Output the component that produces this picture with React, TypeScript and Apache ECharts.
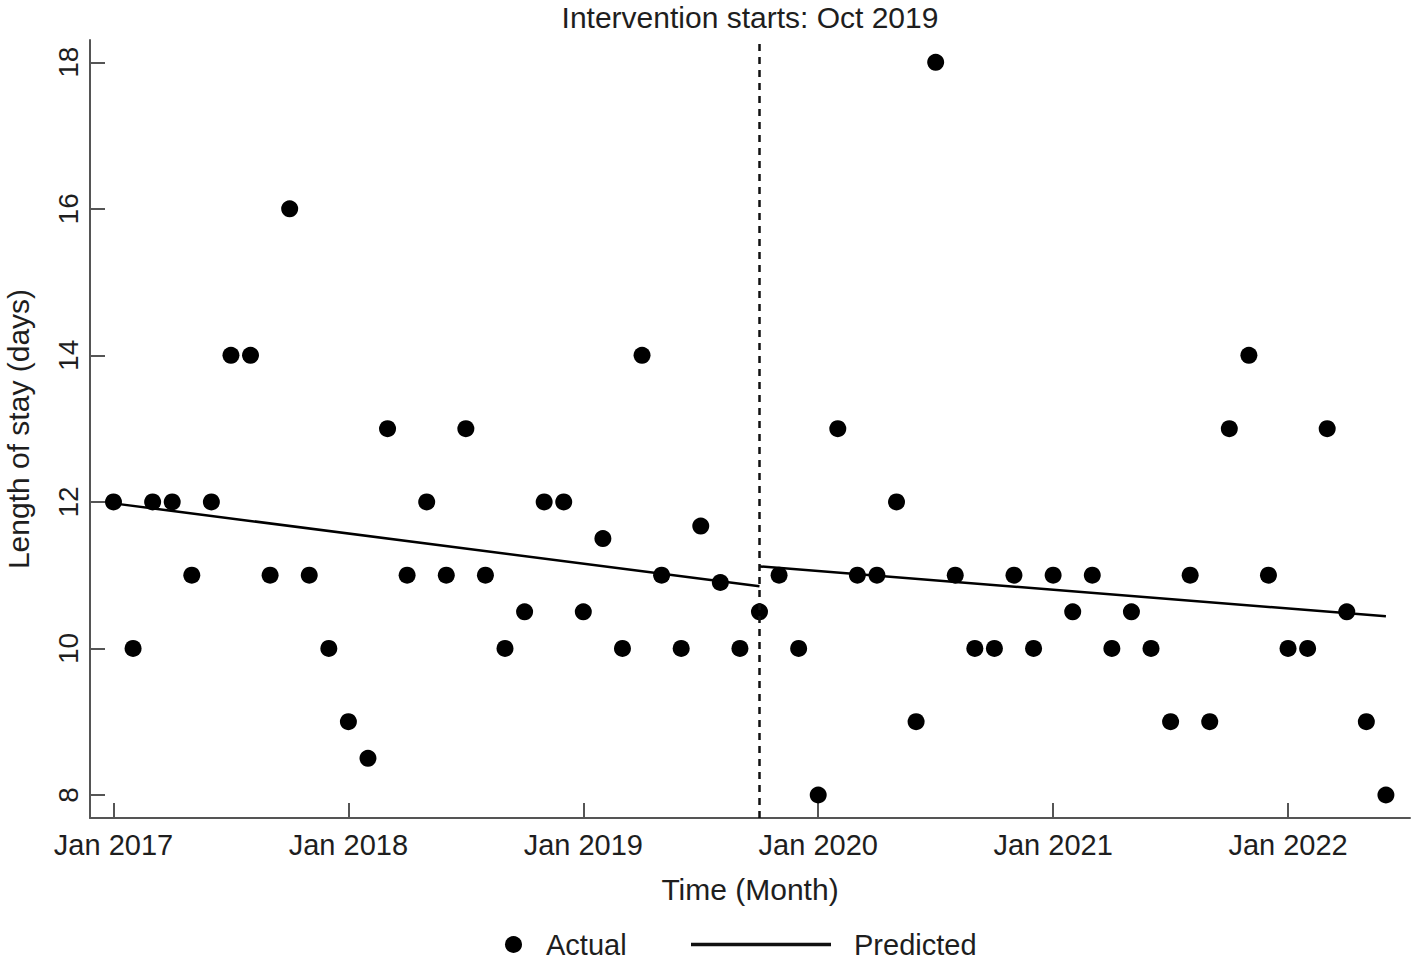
import React, { useEffect, useRef } from "react";
import * as echarts from "echarts";

// Monthly observations, Jan 2017 (index 0) to Jun 2022 (index 65)
const actualValues: number[] = [
  12, 10, 12, 12, 11, 12, 14, 14, 11, 16, 11, 10,
  9, 8.5, 13, 11, 12, 11, 13, 11, 10, 10.5, 12, 12,
  10.5, 11.5, 10, 14, 11, 10, 11.67, 10.9, 10, 10.5, 11, 10,
  8, 13, 11, 11, 12, 9, 18, 11, 10, 10, 11, 10,
  11, 10.5, 11, 10, 10.5, 10, 9, 11, 9, 13, 14, 11,
  10, 10, 13, 10.5, 9, 8,
];

// Predicted segments: [monthIndex, value]
const predictedPre: [number, number][] = [
  [0, 11.98],
  [33, 10.85],
];
const predictedPost: [number, number][] = [
  [33, 11.12],
  [65, 10.44],
];

const xTickValues: number[] = [0, 12, 24, 36, 48, 60];
const xTickLabels: string[] = ["Jan 2017", "Jan 2018", "Jan 2019", "Jan 2020", "Jan 2021", "Jan 2022"];
const yTickValues: number[] = [8, 10, 12, 14, 16, 18];
const interventionIndex = 33;
const titleText = "Intervention starts: Oct 2019";

const FONT = "'Liberation Sans', Arial, Helvetica, sans-serif";
const TEXT = "#1e1e1e";
const AXIS = "#555";

export default function App() {
  const ref = useRef<HTMLDivElement>(null);

  useEffect(() => {
    if (!ref.current) return;
    const chart = echarts.init(ref.current, undefined, { renderer: "svg" });
    const actualData = actualValues.map((v, i) => [i, v]);

    chart.setOption({
      animation: false,
      backgroundColor: "#fff",
      textStyle: { fontFamily: FONT, color: TEXT },
      title: {
        text: titleText,
        left: 750,
        textAlign: "center",
        top: 2,
        padding: 0,
        textStyle: { fontFamily: FONT, fontSize: 30, fontWeight: "normal", color: TEXT },
      },
      grid: {
        left: 90,
        right: 8,
        top: 40,
        bottom: 145,
        containLabel: false,
        outerBoundsMode: "none",
      },
      legend: [
        {
          data: [{ name: "Actual", icon: "circle" }],
          left: 505,
          top: 930,
          padding: 0,
          itemWidth: 17,
          itemHeight: 17,
          itemGap: 0,
          textStyle: { fontFamily: FONT, fontSize: 29, color: TEXT, padding: [0, 0, 0, 19] },
        },
        {
          data: [{ name: "Predicted", icon: "rect" }],
          left: 691,
          top: 930,
          padding: 0,
          itemWidth: 140,
          itemHeight: 3.5,
          itemStyle: { color: "#111" },
          textStyle: { fontFamily: FONT, fontSize: 29, color: TEXT, padding: [0, 0, 0, 18] },
        },
      ],
      xAxis: {
        type: "value",
        min: -1.2,
        max: 66.23,
        name: "Time (Month)",
        nameLocation: "middle",
        nameGap: 56,
        nameTextStyle: { fontFamily: FONT, fontSize: 30, color: TEXT },
        axisLine: { show: true, onZero: false, lineStyle: { color: AXIS, width: 2 } },
        axisTick: {
          show: true,
          inside: true,
          length: 15,
          customValues: xTickValues,
          lineStyle: { color: AXIS, width: 2 },
        },
        axisLabel: {
          customValues: xTickValues,
          margin: 12,
          fontFamily: FONT,
          fontSize: 29,
          color: TEXT,
          formatter: (v: number) => {
            const k = xTickValues.indexOf(Math.round(v));
            return k >= 0 ? xTickLabels[k] : "";
          },
        },
        splitLine: { show: false },
      },
      yAxis: {
        type: "value",
        min: 7.686,
        max: 18.304,
        name: "Length of stay (days)",
        nameLocation: "middle",
        nameGap: 57,
        nameTextStyle: { fontFamily: FONT, fontSize: 30, color: TEXT },
        axisLine: { show: true, onZero: false, lineStyle: { color: AXIS, width: 2 } },
        axisTick: {
          show: true,
          inside: true,
          length: 15,
          customValues: yTickValues,
          lineStyle: { color: AXIS, width: 2 },
        },
        axisLabel: {
          customValues: yTickValues,
          rotate: 90,
          margin: 8,
          fontFamily: FONT,
          fontSize: 28,
          color: TEXT,
        },
        splitLine: { show: false },
      },
      series: [
        {
          name: "Actual",
          type: "scatter",
          data: actualData,
          symbol: "circle",
          symbolSize: 17,
          itemStyle: { color: "#000", opacity: 1 },
          z: 3,
          markLine: {
            silent: true,
            symbol: ["none", "none"],
            label: { show: false },
            lineStyle: { color: "#111", width: 2.5, type: [7, 6] },
            data: [{ xAxis: interventionIndex }],
          },
        },
        {
          name: "Predicted",
          type: "line",
          data: predictedPre,
          symbol: "none",
          lineStyle: { color: "#000", width: 2.5 },
          itemStyle: { color: "#000" },
          z: 2,
        },
        {
          name: "Predicted",
          type: "line",
          data: predictedPost,
          symbol: "none",
          lineStyle: { color: "#000", width: 2.5 },
          itemStyle: { color: "#000" },
          z: 2,
        },
      ],
    });

    return () => chart.dispose();
  }, []);

  return (
    <div
      ref={ref}
      style={{ position: "absolute", left: 0, top: 0, width: 1418, height: 963, background: "#fff" }}
    />
  );
}
